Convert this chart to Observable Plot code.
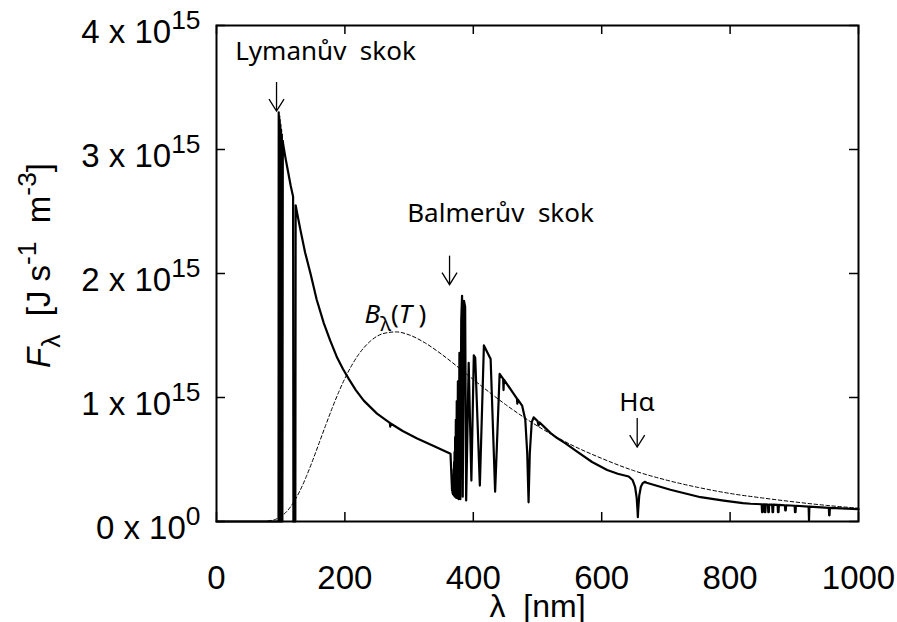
<!DOCTYPE html>
<html><head><meta charset="utf-8">
<script src="https://cdn.jsdelivr.net/npm/d3@7"></script>
<script src="https://cdn.jsdelivr.net/npm/@observablehq/plot@0.6"></script>
<style>
html,body{margin:0;padding:0;background:#fff;}
svg text{white-space:pre;}
</style>
</head><body><div id="chart"></div>
<script>
// Spectrum F_lambda (units of 1e15 J s^-1 m^-3) vs wavelength (nm)
const wavelength = [
  0, 96.6, 96.9, 97.3, 97.7, 98.1, 98.5, 99.0, 99.5, 100.0, 100.6, 101.2, 101.8, 102.6, 103.3, 103.9,
  107.5, 111.5, 115.5, 119.3, 119.8, 122.8, 123.3, 127, 130.8, 138, 146.4, 156, 167.1,
  177, 188, 197, 206, 217, 229.4, 250, 270, 270.6, 271.3, 290, 312.6, 340, 364.5,
  366.9, 367.3, 367.64, 368.0, 368.28, 368.7, 369.16, 369.45, 369.72, 370.05, 370.39, 370.8,
  371.2, 371.7, 372.2, 372.8, 373.44, 374.2, 375.02, 376.0, 377.07, 378.4, 379.79,
  381.2, 382.5, 383.54, 385.5, 387.3, 388.9, 392.8, 397.0, 400.8, 403.0, 410.2,
  416.5, 427.0, 434.0, 441.0, 446.5, 447.1, 447.7, 468.0, 468.6, 469.2, 476.0,
  481.0, 484.0, 486.1, 488.0, 491.0, 494.0, 500.0, 501.6, 503.0, 510, 520, 530,
  543.6, 560, 585, 608.5, 625, 642, 648, 652, 654.5, 655.8, 656.3, 656.8, 658.5,
  661, 664, 667, 670, 707, 754, 790, 820, 832,
  849.2, 849.8, 850.6, 851.2, 853.5, 854.1, 854.9, 855.5, 858.9, 859.5, 860.3, 860.9,
  865.5, 866.1, 866.9, 867.5, 874.0, 874.6, 875.4, 876.0, 885.3, 885.9, 886.7, 887.3,
  900.5, 901.1, 901.9, 902.5, 922.3, 922.9, 923.5, 953.8, 954.3, 954.9, 955.4, 1000
];
const flux = [
  0, 0, 3.30, 0, 3.27, 0, 3.24, 0, 3.20, 0, 3.16, 0, 3.12, 0, 3.07, 3.04,
  2.93, 2.82, 2.71, 2.62, 0, 0, 2.55, 2.45, 2.35, 2.17, 2.00, 1.79, 1.60,
  1.46, 1.32, 1.23, 1.15, 1.06, 0.975, 0.87, 0.795, 0.765, 0.79, 0.73, 0.67, 0.605, 0.546,
  0.25, 0.28, 0.23, 0.32, 0.22, 0.37, 0.22, 0.42, 0.21, 0.48, 0.21, 0.56,
  0.20, 0.68, 0.20, 0.82, 0.19, 0.97, 0.19, 1.13, 0.18, 1.36, 0.18,
  1.62, 1.82, 0.20, 1.78, 1.73, 0.17, 1.28, 0.33, 1.34, 1.32, 0.29,
  1.42, 1.31, 0.24, 1.19, 1.15, 1.06, 1.145, 0.99, 0.95, 0.985, 0.935,
  0.82, 0.55, 0.155, 0.55, 0.80, 0.84, 0.81, 0.775, 0.80, 0.765, 0.715, 0.675,
  0.63, 0.57, 0.48, 0.415, 0.385, 0.363, 0.335, 0.28, 0.19, 0.09, 0.035, 0.09, 0.21,
  0.28, 0.31, 0.32, 0.312, 0.256, 0.196, 0.168, 0.148, 0.143,
  0.139, 0.075, 0.075, 0.139, 0.138, 0.075, 0.075, 0.138, 0.137, 0.075, 0.075, 0.137,
  0.136, 0.075, 0.075, 0.136, 0.134, 0.075, 0.075, 0.134, 0.131, 0.09, 0.09, 0.131,
  0.127, 0.075, 0.075, 0.127, 0.12, 0.01, 0.12, 0.11, 0.05, 0.05, 0.11, 0.10
];
// Black body B_lambda(T), same units
const planckWavelength = [80, 85, 90, 100, 110, 120, 130, 140, 150, 160, 170, 180, 190, 200,
  220, 240, 260, 280, 300, 325, 350, 375, 400, 450, 500, 550, 600, 650, 700, 750, 800, 850, 900, 950, 1000];
const planckFlux = [0.004, 0.008, 0.014, 0.039, 0.084, 0.154, 0.248, 0.364, 0.495, 0.635, 0.775, 0.912, 1.039, 1.154,
  1.337, 1.456, 1.516, 1.529, 1.505, 1.440, 1.351, 1.250, 1.145, 0.944, 0.770, 0.625, 0.509, 0.410, 0.335, 0.275, 0.226, 0.190, 0.158, 0.130, 0.107];

const xTicks = [0, 200, 400, 600, 800, 1000];
const yTicks = [0, 1, 2, 3, 4];
const yTickLabels = ["0 x 10^{0}", "1 x 10^{15}", "2 x 10^{15}", "3 x 10^{15}", "4 x 10^{15}"];
const xTitle = "λ  [nm]";
const yTitle = "*F*_{λ}  [J s^{-1}  m^{-3}]";

const labelText = ["Lymanův  skok", "Balmerův  skok", "*B*_{λ}(*T* )", "Hα"];
const labelLambda = [169.8, 442.4, 278.8, 655];
const labelFlux = [3.786, 2.48, 1.67, 0.96];

const arrowLambda = [93.5, 363, 655.3];
const arrowTop = [3.54, 2.14, 0.83];
const arrowTip = [3.31, 1.91, 0.60];

const spectrum = wavelength.map((x, i) => ({x, y: flux[i]}));
const planck = planckWavelength.map((x, i) => ({x, y: planckFlux[i]}));
const labels = labelText.map((t, i) => ({t, x: labelLambda[i], y: labelFlux[i]}));
const arrows = arrowLambda.map((x, i) => ({x, y1: arrowTop[i], y2: arrowTip[i]}));

const W = 897, H = 622, mL = 216, mR = 39, mT = 25, mB = 101;
const iw = W - mL - mR, ih = H - mT - mB;
const sansTick = "'Liberation Sans', Arial, Helvetica, sans-serif";
const sansLabel = "'Noto Sans', 'DejaVu Sans', sans-serif";
const FS = 33;

const chevron = {
  draw(ctx, size) {
    const r = Math.sqrt(size / Math.PI);
    ctx.moveTo(-r, -1.6 * r);
    ctx.lineTo(0, 0);
    ctx.lineTo(r, -1.6 * r);
  }
};

const plot = Plot.plot({
  width: W, height: H,
  marginLeft: mL, marginRight: mR, marginTop: mT, marginBottom: mB,
  x: {domain: [0, 1000]},
  y: {domain: [0, 4]},
  style: {fontFamily: sansTick, fontSize: FS + "px", color: "black", background: "white", overflow: "visible"},
  marks: [
    Plot.line(planck, {x: "x", y: "y", stroke: "black", strokeWidth: 1, strokeDasharray: "3.5,2.5", curve: "monotone-x"}),
    Plot.line(spectrum, {x: "x", y: "y", stroke: "black", strokeWidth: 2.2}),
    Plot.frame({stroke: "black", strokeWidth: 2}),
    Plot.tickX(xTicks, {x: d => d, insetTop: ih - 9, stroke: "black", strokeWidth: 1.5}),
    Plot.tickX(xTicks, {x: d => d, insetBottom: ih - 9, stroke: "black", strokeWidth: 1.5}),
    Plot.tickY(yTicks, {y: d => d, insetRight: iw - 9, stroke: "black", strokeWidth: 1.5}),
    Plot.tickY(yTicks, {y: d => d, insetLeft: iw - 9, stroke: "black", strokeWidth: 1.5}),
    Plot.axisX(xTicks, {tickSize: 0, tickPadding: 44, label: null, tickFormat: d => String(d), fontSize: FS}),
    Plot.axisY(yTicks, {tickSize: 0, tickPadding: 16, dy: 7, label: null, tickFormat: d => yTickLabels[yTicks.indexOf(d)], fontSize: FS}),
    Plot.text([xTitle], {frameAnchor: "bottom", dy: 85, lineAnchor: "middle", textAnchor: "middle", fontSize: 32, fill: "black"}),
    Plot.text([yTitle], {frameAnchor: "left", dx: -177, dy: -8, rotate: -90, lineAnchor: "middle", textAnchor: "middle", fontSize: FS, fill: "black"}),
    Plot.text(labels, {x: "x", y: "y", text: "t", fontSize: 26, fontFamily: sansLabel, fill: "black"}),
    Plot.ruleX(arrows, {x: "x", y1: "y1", y2: "y2", stroke: "black", strokeWidth: 1.3}),
    Plot.dot(arrows, {x: "x", y: "y2", symbol: chevron, r: 7.5, stroke: "black", fill: "none", strokeWidth: 1.3})
  ]
});
document.getElementById("chart").appendChild(plot);

// Turn simple markup (*italic*, _{sub}, ^{sup}) into tspans
function parseRich(s) {
  const segs = []; let buf = "", italic = false, i = 0;
  const flush = () => { if (buf) { segs.push({t: buf, it: italic, sh: 0}); buf = ""; } };
  while (i < s.length) {
    const c = s[i];
    if (c === "*") { flush(); italic = !italic; i++; }
    else if ((c === "^" || c === "_") && s[i + 1] === "{") {
      flush();
      const j = s.indexOf("}", i);
      segs.push({t: s.slice(i + 2, j), it: italic, sh: c === "^" ? 1 : -1});
      i = j + 1;
    } else { buf += c; i++; }
  }
  flush();
  return segs;
}
plot.querySelectorAll("text").forEach(el => {
  const s = el.textContent;
  if (!/[\^_]\{|\*/.test(s)) return;
  const fs = parseFloat(getComputedStyle(el).fontSize) || FS;
  const segs = parseRich(s);
  el.textContent = "";
  let cur = 0;
  for (const g of segs) {
    const ts = document.createElementNS("http://www.w3.org/2000/svg", "tspan");
    const target = g.sh === 1 ? -0.42 * fs : g.sh === -1 ? 0.3 * fs : 0;
    const d = target - cur;
    if (d !== 0) ts.setAttribute("dy", d);
    cur = target;
    if (g.sh !== 0) ts.setAttribute("font-size", (0.8 * fs) + "px");
    if (g.it) ts.setAttribute("font-style", "italic");
    ts.textContent = g.t;
    el.appendChild(ts);
  }
});
</script>
</body></html>
